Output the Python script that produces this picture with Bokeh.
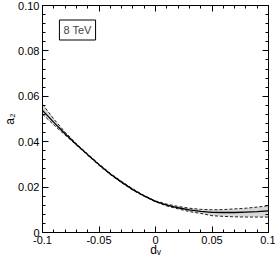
from bokeh.plotting import figure
from bokeh.models import LinearAxis, FixedTicker, Label, Range1d
from bokeh.embed import file_html
from bokeh.resources import INLINE

# ---- data ----
dv = [-0.1, -0.09, -0.08, -0.07, -0.06, -0.05, -0.04, -0.03, -0.02, -0.01,
      0.0, 0.01, 0.02, 0.03, 0.04, 0.05, 0.06, 0.07, 0.08, 0.09, 0.1]
a2_central = [0.0538, 0.0485, 0.0435, 0.0388, 0.0343, 0.0299, 0.0258, 0.0222,
              0.0189, 0.0161, 0.0137, 0.0121, 0.0109, 0.0100, 0.0093, 0.0089,
              0.0088, 0.0088, 0.0090, 0.0092, 0.0095]
a2_upper = [0.0565, 0.0500, 0.0442, 0.0391, 0.0346, 0.0302, 0.0261, 0.0225,
            0.0192, 0.0163, 0.0139, 0.0125, 0.0115, 0.0107, 0.0102, 0.0100,
            0.0101, 0.0104, 0.0107, 0.0112, 0.0118]
a2_lower = [0.0521, 0.0474, 0.0429, 0.0385, 0.0340, 0.0296, 0.0255, 0.0219,
            0.0186, 0.0159, 0.0135, 0.0117, 0.0104, 0.0092, 0.0084, 0.0074,
            0.0071, 0.0069, 0.0068, 0.0068, 0.0068]

x_ticks = [-0.1, -0.05, 0.0, 0.05, 0.1]
x_tick_labels = ["-0.1", "-0.05", "0", "0.05", "0.1"]
x_minor = [-0.09, -0.08, -0.07, -0.06, -0.04, -0.03, -0.02, -0.01,
           0.01, 0.02, 0.03, 0.04, 0.06, 0.07, 0.08, 0.09]
y_ticks = [0.0, 0.02, 0.04, 0.06, 0.08, 0.1]
y_tick_labels = ["0", "0.02", "0.04", "0.06", "0.08", "0.10"]
y_minor = [0.004, 0.008, 0.012, 0.016, 0.024, 0.028, 0.032, 0.036,
           0.044, 0.048, 0.052, 0.056, 0.064, 0.068, 0.072, 0.076,
           0.084, 0.088, 0.092, 0.096]
x_title = "d\u1d65"   # d with subscript v
y_title = "a\u2082"   # a with subscript 2
energy_label = "8 TeV"

FONT = "Liberation Sans"

p = figure(width=275, height=262, x_range=Range1d(-0.1, 0.1), y_range=Range1d(0, 0.1),
           output_backend="svg", toolbar_location=None,
           min_border_left=40, min_border_right=7, min_border_top=5, min_border_bottom=30)
p.xgrid.visible = False
p.ygrid.visible = False
p.outline_line_color = "black"
p.outline_line_width = 1
p.background_fill_color = "white"
p.border_fill_color = "white"

def style_axis(ax, ticks, minor, labels, show_labels):
    ax.ticker = FixedTicker(ticks=ticks, minor_ticks=minor)
    ax.axis_line_color = "black"
    ax.major_tick_line_color = "black"
    ax.minor_tick_line_color = "black"
    ax.major_tick_in = 6
    ax.major_tick_out = 0
    ax.minor_tick_in = 3
    ax.minor_tick_out = 0
    ax.major_label_text_font = FONT
    ax.major_label_text_font_size = "11px"
    ax.major_label_text_color = "black"
    ax.major_label_standoff = 3
    ax.axis_label_text_font = FONT
    ax.axis_label_text_font_size = "12px"
    ax.axis_label_text_font_style = "normal"
    ax.axis_label_text_color = "black"
    if show_labels:
        ax.major_label_overrides = {t: l for t, l in zip(ticks, labels)}
    else:
        ax.major_label_overrides = {t: "" for t in ticks}
        ax.major_label_standoff = 0

style_axis(p.xaxis[0], x_ticks, x_minor, x_tick_labels, True)
style_axis(p.yaxis[0], y_ticks, y_minor, y_tick_labels, True)
p.xaxis[0].axis_label = x_title
p.xaxis[0].axis_label_standoff = -4
p.yaxis[0].axis_label = y_title
p.yaxis[0].axis_label_standoff = -2

top_ax = LinearAxis()
right_ax = LinearAxis()
style_axis(top_ax, x_ticks, x_minor, x_tick_labels, False)
style_axis(right_ax, y_ticks, y_minor, y_tick_labels, False)
p.add_layout(top_ax, "above")
p.add_layout(right_ax, "right")

# band and curves
p.varea(x=dv, y1=a2_lower, y2=a2_upper, fill_color="#d8d8d8")
p.line(dv, a2_upper, line_color="#222222", line_width=1, line_dash="3 2")
p.line(dv, a2_lower, line_color="#222222", line_width=1, line_dash="3 2")
p.line(dv, a2_central, line_color="black", line_width=1.3)

# energy label box (screen units are relative to the frame: left 40, bottom 232.5)
FL, FB = 40, 232.5
p.add_layout(Label(x=75 - FL, y=FB - 30, x_units="screen", y_units="screen",
                   text=energy_label, text_font=FONT, text_font_size="11px",
                   text_align="center", text_baseline="middle",
                   border_line_color="black", border_line_width=1,
                   background_fill_color="white", padding=4))

open("out.html", "w").write(file_html(p, INLINE))
